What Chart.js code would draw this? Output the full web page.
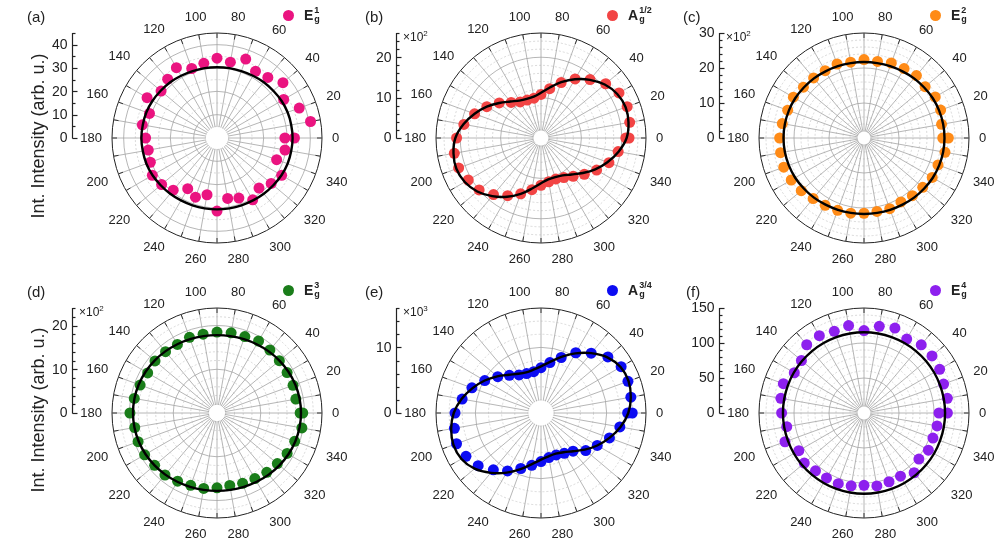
<!DOCTYPE html>
<html><head><meta charset="utf-8">
<script src="https://cdn.jsdelivr.net/npm/chart.js@4.4.1/dist/chart.umd.min.js"></script>
<style>
html,body{margin:0;padding:0;background:#fff;overflow:hidden;width:996px;height:550px;}
#wrap{position:relative;width:996px;height:550px;overflow:hidden;font-family:"Liberation Sans",Arial,sans-serif;color:#222;}
canvas.pc{position:absolute;}
.letter{position:absolute;font-size:15px;line-height:17px;}
.ytitle{position:absolute;font-size:18px;white-space:nowrap;transform:translate(-50%,-50%) rotate(-90deg);}
.leg{position:absolute;display:flex;align-items:center;height:20px;}
.dot{width:11px;height:11px;border-radius:50%;display:inline-block;margin-right:10px;}
.sym{font-weight:bold;font-size:14px;display:inline-flex;align-items:center;}
.ss{display:inline-flex;flex-direction:column;font-size:9px;line-height:9px;margin-left:1px;}
.mult{position:absolute;font-size:12px;line-height:14px;}
.mult sup{font-size:8px;vertical-align:5px;}
</style></head>
<body><div id="wrap"></div>
<script>
// ---------- data ----------
const scanAngles = [0,10,20,30,40,50,60,70,80,90,100,110,120,130,140,150,160,170,180,190,200,210,220,230,240,250,260,270,280,290,300,310,320,330,340,350];
const angleTicks = [0,20,40,60,80,100,120,140,160,180,200,220,240,260,280,300,320,340];

const eg1Points = [29.1,40.7,37.5,33.0,36.9,33.9,33.0,36.0,33.0,34.2,32.5,31.7,34.8,32.9,31.3,34.6,30.8,32.5,30.6,29.9,30.4,32.0,31.0,29.2,25.1,27.0,24.7,31.3,26.3,27.4,30.6,28.0,30.3,32.0,27.2,29.6];
const eg1At360 = 33.2;
const eg1Fit = [32.4,32.3,32.2,31.9,31.5,31.2,30.8,30.5,30.4,30.3,30.4,30.5,30.8,31.2,31.5,31.9,32.2,32.3,32.4,32.3,32.2,31.9,31.5,31.2,30.9,30.7,30.6,30.6,30.6,30.7,30.9,31.2,31.5,31.9,32.2,32.3];

const ag12Points = [21.0,22.3,22.7,22.3,20.9,18.9,16.9,14.6,12.4,10.8,10.0,10.0,10.3,11.5,13.5,15.5,17.5,19.4,20.9,21.8,21.7,20.8,20.0,18.3,16.5,14.7,13.0,11.7,11.0,10.8,11.3,12.4,14.0,15.9,17.9,19.4];
const ag12At360 = 21.8;
const ag12Fit = [21.2,22.0,22.3,21.8,20.6,18.8,16.8,14.7,12.7,11.2,10.4,10.3,10.7,11.8,13.5,15.5,17.5,19.5,21.2,22.0,22.3,21.8,20.6,18.8,16.8,14.7,12.7,11.2,10.4,10.3,10.7,11.8,13.5,15.5,17.5,19.5];

const eg2Points = [22.5,22.5,23.3,23.5,22.8,23.3,22.9,22.8,22.2,22.4,22.0,22.5,22.2,22.4,22.6,23.3,23.2,23.7,24.1,24.2,24.4,24.0,23.4,22.6,22.2,22.0,21.8,21.5,21.3,21.5,21.1,21.5,21.9,22.5,22.5,23.5];
const eg2At360 = 24.1;
const eg2Fit = [23.0,22.96,22.85,22.7,22.45,22.25,22.0,21.85,21.74,21.7,21.74,21.85,22.0,22.25,22.45,22.7,22.85,22.96,23.0,22.96,22.85,22.7,22.45,22.25,22.0,21.85,21.74,21.7,21.74,21.85,22.0,22.25,22.45,22.7,22.85,22.96];

const eg3Points = [19.0,18.3,18.5,18.5,18.6,18.8,19.0,18.6,18.6,18.5,18.3,18.4,18.1,18.3,18.5,18.3,18.7,19.2,19.9,19.1,19.2,19.1,18.6,18.5,18.0,17.6,17.5,17.1,16.8,17.1,17.3,17.7,18.0,18.5,18.9,19.7];
const eg3At360 = 19.6;
const eg3Fit = [19.2,19.16,19.04,18.85,18.62,18.38,18.15,17.96,17.84,17.8,17.84,17.96,18.15,18.38,18.62,18.85,19.04,19.16,19.2,19.16,19.04,18.85,18.62,18.38,18.15,17.96,17.84,17.8,17.84,17.96,18.15,18.38,18.62,18.85,19.04,19.16];

const ag34Points = [13.2,13.9,14.1,14.1,13.3,11.9,10.6,9.0,7.8,6.9,6.4,6.4,6.7,7.5,8.6,9.9,11.2,12.2,13.1,13.4,13.7,13.2,12.5,11.3,10.2,9.0,8.1,7.4,6.9,6.8,7.1,7.6,8.9,9.9,11.1,12.2];
const ag34At360 = 13.9;
const ag34Fit = [13.3,13.9,14.2,14.0,13.2,11.9,10.5,9.1,7.9,7.1,6.7,6.6,6.9,7.6,8.7,9.9,11.1,12.3,13.3,13.9,14.2,14.0,13.2,11.9,10.5,9.1,7.9,7.1,6.7,6.6,6.9,7.6,8.7,9.9,11.1,12.3];

const eg4Points = [119.1,120.9,121.0,124.8,126.8,127.2,122.0,129.1,125.8,117.7,126.9,124.1,127.6,127.3,116.7,115.0,122.6,120.6,117.7,112.1,120.1,107.5,111.4,107.8,107.2,107.4,105.7,103.3,105.8,104.5,104.2,111.4,102.4,106.2,104.8,106.0];
const eg4At360 = 107.1;
const eg4Fit = [115.8,115.8,115.7,115.7,115.6,115.5,115.4,115.4,115.3,115.3,115.3,115.4,115.4,115.5,115.6,115.7,115.7,115.8,115.8,115.8,115.7,115.7,115.6,115.5,115.4,115.4,115.3,115.3,115.3,115.4,115.4,115.5,115.6,115.7,115.7,115.8];

// radial axis ranges and tick labels
const radialMax = [45, 26, 30, 24, 16, 150];
const radialMinor = [5, 2, 2, 2, 2, 10];
const radialTicksA = [0,10,20,30,40];
const radialTicksB = [0,10,20];
const radialTicksC = [0,10,20,30];
const radialTicksD = [0,10,20];
const radialTicksE = [0,10];
const radialTicksF = [0,50,100,150];
const multipliers = ['', '2', '2', '2', '3', ''];
const panelLetters = ['(a)','(b)','(c)','(d)','(e)','(f)'];
const seriesBase = ['E','A','E','E','A','E'];
const seriesSup = ['1','1/2','2','3','3/4','4'];
const seriesSub = 'g';

// ---------- styles / layout ----------
const colors = ['#ea1480','#f24444','#ff8b17','#1a7d1a','#0c0cf2','#8d20ee'];
const centers = [[217,138],[541,138],[864,138],[217,413],[541,413],[864,413]];
const letterX = [27,365,683,27,365,686];

const pointSets = [eg1Points, ag12Points, eg2Points, eg3Points, ag34Points, eg4Points];
const extra360 = [eg1At360, ag12At360, eg2At360, eg3At360, ag34At360, eg4At360];
const fitSets = [eg1Fit, ag12Fit, eg2Fit, eg3Fit, ag34Fit, eg4Fit];
const tickSets = [radialTicksA, radialTicksB, radialTicksC, radialTicksD, radialTicksE, radialTicksF];

// radar index i is drawn clockwise from the top; map to math angle (counter-clockwise from right)
const radarAngles = scanAngles.map((_, i) => ((90 - 10 * i) % 360 + 360) % 360);
const radarLabels = radarAngles.map(a => angleTicks.includes(a) ? String(a) : '');
const reorder = arr => radarAngles.map(a => arr[scanAngles.indexOf(a)]);
const only0 = v => radarAngles.map(a => a === 0 ? v : null);

const FONT = '"Liberation Sans", Arial, sans-serif';

const polarDecor = {
  id: 'polarDecor',
  beforeDatasetsDraw(chart, args, o) {
    const s = chart.scales.r, ctx = chart.ctx, R = s.drawingArea;
    ctx.save();
    const hr = s.getDistanceFromCenterForValue(o.minor);
    ctx.fillStyle = '#fff';
    ctx.beginPath(); ctx.arc(s.xCenter, s.yCenter, hr - 0.6, 0, Math.PI * 2); ctx.fill();
    ctx.strokeStyle = '#333'; ctx.lineWidth = 1;
    for (let i = 0; i < chart.data.labels.length; i++) {
      const p1 = s.getPointPosition(i, R), p2 = s.getPointPosition(i, R - 5);
      ctx.beginPath(); ctx.moveTo(p1.x, p1.y); ctx.lineTo(p2.x, p2.y); ctx.stroke();
    }
    ctx.restore();
  },
  afterDraw(chart, args, o) {
    const s = chart.scales.r, ctx = chart.ctx, R = s.drawingArea;
    ctx.save();
    ctx.font = '13px ' + FONT;
    ctx.fillStyle = '#222'; ctx.textAlign = 'center'; ctx.textBaseline = 'middle';
    chart.data.labels.forEach((lab, i) => {
      if (lab === '') return;
      const u = s.getPointPosition(i, 1);
      const ux = u.x - s.xCenter, uy = u.y - s.yCenter;
      const w = ctx.measureText(lab).width;
      const d = R + 10 + Math.abs(ux) * w / 2 + Math.abs(uy) * 6.5;
      const p = s.getPointPosition(i, d);
      ctx.fillText(lab, p.x, p.y + 0.5);
    });
    // left radial axis
    const ax = Math.round(s.xCenter - 145.5) + 0.5;
    ctx.strokeStyle = '#222'; ctx.lineWidth = 1.2;
    ctx.beginPath(); ctx.moveTo(ax, s.yCenter + 0.5); ctx.lineTo(ax, s.yCenter - R); ctx.stroke();
    for (let v = 0; v <= o.max + 1e-9; v += o.minor) {
      const y = Math.round(s.yCenter - s.getDistanceFromCenterForValue(v)) + 0.5;
      const major = o.ticks.includes(v);
      ctx.beginPath(); ctx.moveTo(ax, y); ctx.lineTo(ax + (major ? 5 : 3), y); ctx.stroke();
    }
    ctx.font = '14px ' + FONT; ctx.textAlign = 'right';
    o.ticks.forEach(v => {
      const y = s.yCenter - s.getDistanceFromCenterForValue(v);
      ctx.fillText(String(v), ax - 5, y + 0.5);
    });
    ctx.restore();
  }
};

const wrap = document.getElementById('wrap');

for (let k = 0; k < 6; k++) {
  const [cx, cy] = centers[k];
  const cv = document.createElement('canvas');
  cv.className = 'pc';
  cv.width = 360; cv.height = 270;
  cv.style.width = '360px'; cv.style.height = '270px';
  cv.style.left = (cx - 180) + 'px'; cv.style.top = (cy - 135) + 'px';
  wrap.appendChild(cv);
  const max = radialMax[k], minor = radialMinor[k], ticks = tickSets[k];
  const isMajor = v => ticks.includes(v) || (v % (ticks[1] - ticks[0]) === 0);
  new Chart(cv, {
    type: 'radar',
    data: {
      labels: radarLabels,
      datasets: [
        { data: reorder(fitSets[k]), borderColor: '#000', borderWidth: 2.4, pointRadius: 0, tension: 0.33, fill: false, backgroundColor: 'rgba(0,0,0,0)' },
        { data: reorder(pointSets[k]), showLine: false, pointRadius: 5.5, pointBackgroundColor: colors[k], pointBorderWidth: 0, borderWidth: 0, backgroundColor: 'rgba(0,0,0,0)' },
        { data: only0(extra360[k]), showLine: false, pointRadius: 5.5, pointBackgroundColor: colors[k], pointBorderWidth: 0, borderWidth: 0, backgroundColor: 'rgba(0,0,0,0)' }
      ]
    },
    options: {
      responsive: false, animation: false, devicePixelRatio: 1,
      layout: { padding: { top: 30, bottom: 30, left: 0, right: 0 } },
      plugins: { legend: { display: false }, tooltip: { enabled: false },
        polarDecor: { max, minor, ticks } },
      scales: {
        r: {
          min: 0, max: max, startAngle: 0,
          ticks: { display: false, stepSize: minor },
          pointLabels: { display: false },
          angleLines: { color: '#a3a3a3', lineWidth: 0.8 },
          grid: {
            circular: true,
            color: c => c.tick && Math.abs(c.tick.value - max) < 1e-9 ? '#222' : (c.tick && isMajor(c.tick.value) ? '#a3a3a3' : '#cfcfcf'),
            lineWidth: c => c.tick && Math.abs(c.tick.value - max) < 1e-9 ? 1 : 0.8,
            borderDash: c => c.tick && (isMajor(c.tick.value) || Math.abs(c.tick.value - max) < 1e-9) ? [] : [2, 2]
          },
          border: {
            dash: c => c.tick && (isMajor(c.tick.value) || Math.abs(c.tick.value - max) < 1e-9) ? [] : [2, 2]
          }
        }
      }
    },
    plugins: [polarDecor]
  });

  // panel letter
  const lt = document.createElement('div');
  lt.className = 'letter'; lt.textContent = panelLetters[k];
  lt.style.left = letterX[k] + 'px'; lt.style.top = (cy - 130) + 'px';
  wrap.appendChild(lt);

  // legend
  const lg = document.createElement('div');
  lg.className = 'leg';
  lg.style.left = (cx + 66) + 'px'; lg.style.top = (cy - 133) + 'px';
  lg.innerHTML = '<span class="dot" style="background:' + colors[k] + '"></span>' +
    '<span class="sym">' + seriesBase[k] + '<span class="ss"><span>' + seriesSup[k] + '</span><span>' + seriesSub + '</span></span></span>';
  wrap.appendChild(lg);

  // multiplier
  if (multipliers[k]) {
    const m = document.createElement('div');
    m.className = 'mult';
    m.innerHTML = '\u00d710<sup>' + multipliers[k] + '</sup>';
    m.style.left = (cx - 145 + 7) + 'px'; m.style.top = (cy - 111) + 'px';
    wrap.appendChild(m);
  }
}

// y axis titles
[136, 410].forEach(y => {
  const t = document.createElement('div');
  t.className = 'ytitle'; t.textContent = 'Int. Intensity (arb. u.)';
  t.style.left = '38px'; t.style.top = y + 'px';
  wrap.appendChild(t);
});
</script>
</body></html>
